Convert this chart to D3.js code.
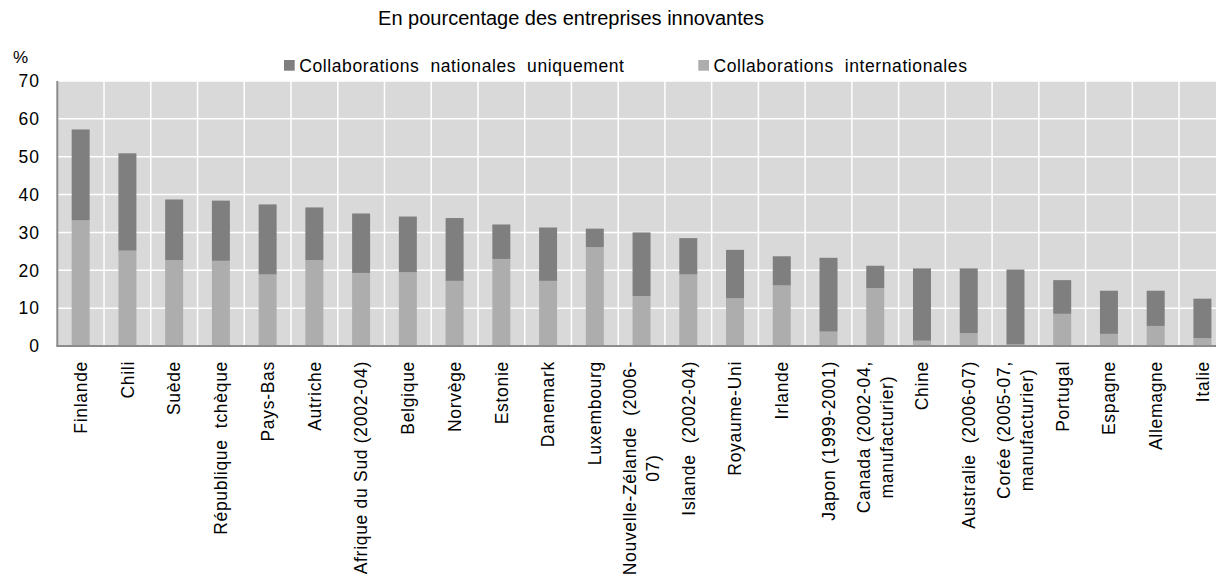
<!DOCTYPE html>
<html>
<head>
<meta charset="utf-8">
<script src="https://cdn.jsdelivr.net/npm/d3@7"></script>
<style>
  body { margin: 0; background: #fff; }
  svg { display: block; font-family: "Liberation Sans", Arial, sans-serif; }
  text { white-space: pre; }
</style>
</head>
<body>
<svg id="chart"></svg>
<script>
// data (% of innovative firms)
const countries = [
  "Finlande", "Chili", "Suède", "République  tchèque", "Pays-Bas", "Autriche",
  "Afrique du Sud (2002-04)", "Belgique", "Norvège", "Estonie", "Danemark",
  "Luxembourg", "Nouvelle-Zélande  (2006-\n07)", "Islande  (2002-04)",
  "Royaume-Uni", "Irlande", "Japon (1999-2001)", "Canada (2002-04,\nmanufacturier)",
  "Chine", "Australie  (2006-07)", "Corée (2005-07,\nmanufacturier)", "Portugal",
  "Espagne", "Allemagne", "Italie"
];
const international = [33.2, 25.2, 22.7, 22.5, 18.9, 22.7, 19.3, 19.5, 17.2, 23.0, 17.2, 26.1,
  13.2, 18.9, 12.6, 16.0, 3.8, 15.3, 1.4, 3.4, 0.4, 8.5, 3.2, 5.3, 2.1];
const nationalOnly = [24.0, 25.7, 16.0, 15.9, 18.5, 13.9, 15.7, 14.7, 16.6, 9.1, 14.1, 4.9,
  16.8, 9.6, 12.8, 7.7, 19.5, 5.9, 19.1, 17.1, 19.8, 8.9, 11.4, 9.3, 10.4];
const yTicks = [0, 10, 20, 30, 40, 50, 60, 70];
const seriesNames = ["Collaborations  nationales  uniquement", "Collaborations  internationales"];

const width = 1216;
const height = 578;
const left = 57.3;
const step = 46.74;
const plotTop = 81;
const plotBottom = 346;

const darkGrey = "#7f7f7f";
const lightGrey = "#adadad";

const svg = d3.select("#chart").attr("width", width).attr("height", height);

const x = d3.scaleBand()
  .domain(countries)
  .range([left, left + step * countries.length])
  .padding(0);

const y = d3.scaleLinear().domain([0, 70]).range([plotBottom, plotTop]);

const barW = x.bandwidth() * 0.385;

// plot background
svg.append("rect")
  .attr("x", left).attr("y", plotTop)
  .attr("width", step * countries.length).attr("height", plotBottom - plotTop)
  .attr("fill", "#d9d9d9");

// grid
svg.append("g")
  .selectAll("line")
  .data(yTicks.slice(1))
  .join("line")
  .attr("x1", left).attr("x2", left + step * countries.length)
  .attr("y1", d => y(d)).attr("y2", d => y(d))
  .attr("stroke", "#fff").attr("stroke-width", 1.5);

svg.append("g")
  .selectAll("line")
  .data(countries.slice(1))
  .join("line")
  .attr("x1", d => x(d)).attr("x2", d => x(d))
  .attr("y1", plotTop).attr("y2", plotBottom)
  .attr("stroke", "#fff").attr("stroke-width", 1.5);

// stacked bars
const rows = countries.map((c, i) => ({ c, intl: international[i], nat: nationalOnly[i] }));
const stack = d3.stack().keys(["intl", "nat"])(rows);
const colour = { intl: lightGrey, nat: darkGrey };

svg.append("g")
  .selectAll("g")
  .data(stack)
  .join("g")
  .attr("fill", d => colour[d.key])
  .selectAll("rect")
  .data(d => d)
  .join("rect")
  .attr("x", d => x(d.data.c) + (x.bandwidth() - barW) / 2)
  .attr("width", barW)
  .attr("y", d => y(d[1]))
  .attr("height", d => y(d[0]) - y(d[1]));

// axes lines
svg.append("line")
  .attr("x1", left).attr("x2", left)
  .attr("y1", plotTop).attr("y2", plotBottom)
  .attr("stroke", "#8c8c8c").attr("stroke-width", 2);
svg.append("line")
  .attr("x1", left - 1).attr("x2", left + step * countries.length)
  .attr("y1", plotBottom).attr("y2", plotBottom)
  .attr("stroke", "#8c8c8c").attr("stroke-width", 2);

// y tick labels
svg.append("g")
  .selectAll("text")
  .data(yTicks)
  .join("text")
  .attr("x", 40)
  .attr("y", d => y(d))
  .attr("dy", "0.36em")
  .attr("text-anchor", "end")
  .style("font-size", "17.5px")
  .style("letter-spacing", "1px")
  .attr("fill", "#000")
  .text(d => d);

svg.append("text")
  .attr("x", 13).attr("y", 63)
  .style("font-size", "17px")
  .text("%");

// x labels, rotated
const labelG = svg.append("g")
  .selectAll("g")
  .data(countries)
  .join("g")
  .attr("transform", d => `translate(${x(d) + x.bandwidth() / 2}, 361) rotate(-90)`);

labelG.each(function (d) {
  const g = d3.select(this);
  const lines = d.split("\n");
  const texts = lines.map((line, i) =>
    g.append("text")
      .attr("y", (i - (lines.length - 1) / 2) * 23)
      .attr("dy", "0.36em")
      .style("font-size", "17.5px")
      .style("letter-spacing", "0.7px")
      .attr("fill", "#000")
      .text(line)
  );
  const maxLen = d3.max(texts, t => t.node().getComputedTextLength());
  texts.forEach(t => t.attr("text-anchor", "middle").attr("x", -maxLen / 2));
});

// title
svg.append("text")
  .attr("x", 571).attr("y", 25)
  .attr("text-anchor", "middle")
  .style("font-size", "20px")
  .text("En pourcentage des entreprises innovantes");

// legend
const legendX = [284, 698.3];
const legendColours = [darkGrey, lightGrey];
const legend = svg.append("g")
  .selectAll("g")
  .data(seriesNames)
  .join("g")
  .attr("transform", (d, i) => `translate(${legendX[i]}, 60)`);

legend.append("rect")
  .attr("width", 10.7).attr("height", 10.7)
  .attr("fill", (d, i) => legendColours[i]);

legend.append("text")
  .attr("x", 15.2).attr("y", 12)
  .style("font-size", "17.5px")
  .style("letter-spacing", "0.6px")
  .text(d => d);
</script>
</body>
</html>
